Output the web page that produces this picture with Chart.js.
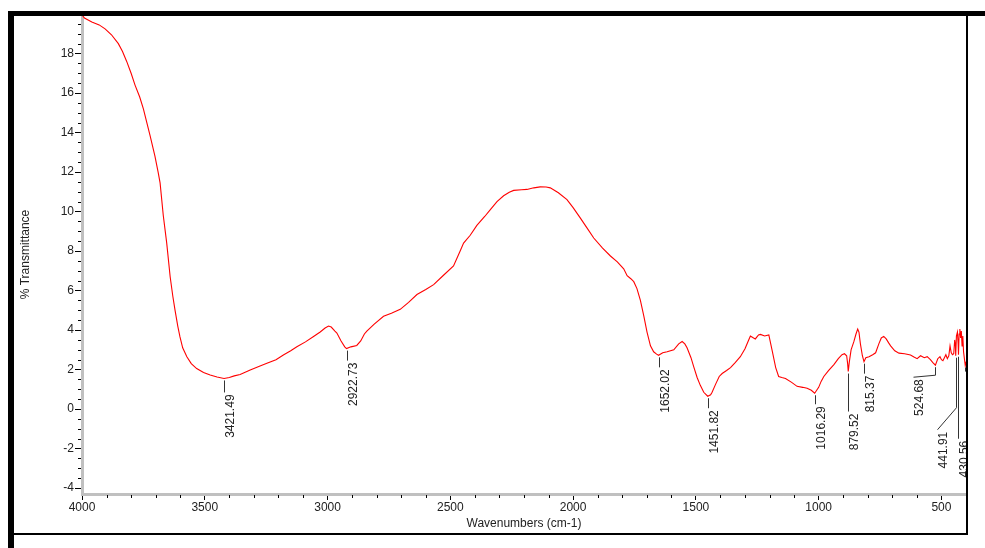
<!DOCTYPE html>
<html>
<head>
<meta charset="utf-8">
<script src="https://cdn.jsdelivr.net/npm/chart.js@4/dist/chart.umd.min.js"></script>
<style>
html,body{margin:0;padding:0;background:#fff;overflow:hidden}
canvas{display:block}
</style>
</head>
<body>
<canvas id="c" width="985" height="548"></canvas>
<script>
// FT-IR spectrum: wavenumber (cm-1) against % transmittance
const wavenumbers = [
  4000, 3990, 3960, 3930, 3906, 3880, 3852, 3835, 3818, 3800,
  3784, 3765, 3750, 3735, 3723, 3703, 3690, 3682, 3669, 3655,
  3641, 3630, 3621, 3610, 3601, 3590, 3573, 3555, 3533, 3505,
  3478, 3450, 3421.49, 3400, 3380, 3356, 3315, 3280, 3247, 3210,
  3180, 3150, 3125, 3090, 3057, 3030, 3010, 2996, 2985, 2970,
  2962, 2945, 2930, 2922.73, 2905, 2881, 2865, 2850, 2840, 2810,
  2772, 2740, 2704, 2670, 2636, 2600, 2568, 2530, 2487, 2460,
  2446, 2419, 2392, 2360, 2337, 2310, 2283, 2260, 2242, 2210,
  2188, 2160, 2134, 2110, 2093, 2060, 2025, 2000, 1971, 1945,
  1916, 1880, 1848, 1820, 1794, 1780, 1765, 1753, 1740, 1726,
  1712, 1699, 1685, 1672, 1660, 1652.02, 1635, 1617, 1590, 1570,
  1556, 1545, 1536, 1520, 1509, 1495, 1482, 1468, 1451.82, 1440,
  1434, 1420, 1405, 1393, 1375, 1359, 1340, 1319, 1300, 1285,
  1278, 1265, 1258, 1245, 1237, 1220, 1203, 1190, 1175, 1163,
  1150, 1135, 1110, 1088, 1065, 1047, 1030, 1016.29, 1000, 990,
  979, 960, 938, 920, 905, 895, 886, 882, 879.52, 875,
  868, 857, 848, 841, 836, 830, 822, 815.37, 808, 795,
  780, 768, 755, 745, 735, 725, 715, 707, 690, 673,
  650, 626, 610, 599, 585, 570, 558, 545, 535, 524.68,
  515, 506, 500, 494, 488, 482, 476, 470, 465, 460,
  455, 450, 446, 443, 441.91, 439, 435, 432, 430.56, 428,
  425, 422, 419, 416, 413, 410, 406, 403, 400
];
const transmittance = [
  19.95, 19.8, 19.6, 19.45, 19.25, 18.95, 18.5, 18.1, 17.6, 17.0,
  16.4, 15.8, 15.2, 14.45, 13.85, 12.8, 12.0, 11.45, 9.8, 8.4,
  6.7, 5.7, 5.0, 4.2, 3.65, 3.1, 2.65, 2.3, 2.05, 1.85,
  1.72, 1.62, 1.55, 1.6, 1.68, 1.75, 1.98, 2.15, 2.32, 2.5,
  2.74, 2.95, 3.15, 3.4, 3.67, 3.9, 4.1, 4.2, 4.15, 3.95,
  3.85, 3.45, 3.15, 3.06, 3.15, 3.22, 3.45, 3.8, 3.95, 4.3,
  4.7, 4.85, 5.05, 5.4, 5.8, 6.05, 6.3, 6.75, 7.25, 8.0,
  8.4, 8.8, 9.3, 9.75, 10.1, 10.5, 10.8, 10.98, 11.07, 11.1,
  11.12, 11.2, 11.25, 11.24, 11.2, 10.95, 10.6, 10.2, 9.68, 9.2,
  8.66, 8.15, 7.75, 7.45, 7.1, 6.75, 6.6, 6.45, 6.1, 5.5,
  4.7, 3.9, 3.2, 2.9, 2.78, 2.72, 2.85, 2.9, 3.0, 3.3,
  3.42, 3.3, 3.1, 2.6, 2.15, 1.6, 1.2, 0.85, 0.65, 0.72,
  0.85, 1.25, 1.65, 1.8, 1.95, 2.1, 2.35, 2.65, 3.05, 3.5,
  3.7, 3.6, 3.55, 3.75, 3.78, 3.7, 3.75, 3.0, 2.1, 1.65,
  1.6, 1.55, 1.35, 1.15, 1.1, 1.05, 0.95, 0.8, 1.1, 1.4,
  1.65, 1.95, 2.25, 2.55, 2.75, 2.8, 2.7, 2.3, 1.9, 2.4,
  3.0, 3.4, 3.8, 4.05, 3.9, 3.3, 2.7, 2.4, 2.6, 2.65,
  2.75, 2.85, 3.3, 3.6, 3.68, 3.55, 3.35, 3.2, 2.95, 2.83,
  2.8, 2.74, 2.62, 2.55, 2.7, 2.6, 2.65, 2.5, 2.35, 2.22,
  2.55, 2.65, 2.5, 2.45, 2.6, 2.75, 2.55, 2.7, 3.2, 2.85,
  2.75, 2.8, 3.5, 3.2, 2.7, 3.7, 3.9, 3.3, 2.75, 3.8,
  4.05, 3.6, 3.95, 3.2, 3.7, 2.9, 2.5, 2.2, 2.4
];

// Picked peak positions (cm-1) and their printed labels
const peakWavenumbers = [3421.49, 2922.73, 1652.02, 1451.82, 1016.29, 879.52, 815.37, 524.68, 441.91, 430.56, 403];
const peakLabels = ['3421.49', '2922.73', '1652.02', '1451.82', '1016.29', '879.52', '815.37', '524.68', '441.91', '430.56', '403.14'];

// Axis tick values
const xTickValues = [4000, 3500, 3000, 2500, 2000, 1500, 1000, 500];
const yTickValues = [-4, -2, 0, 2, 4, 6, 8, 10, 12, 14, 16, 18];

// Leader line geometry for each peak label (pixels): drop length, then sideways/downward shift
const leaderGeometry = [
  {len: 12, dx: 0, dy: 0},
  {len: 10, dx: 0, dy: 0},
  {len: 10, dx: 0, dy: 0},
  {len: 10, dx: 0, dy: 0},
  {len: 9, dx: 0, dy: 0},
  {len: 38, dx: 0, dy: 0},
  {len: 10, dx: 0, dy: 0},
  {len: 8, dx: -22, dy: 2},
  {len: 50, dx: -19, dy: 22},
  {len: 82, dx: 0, dy: 0},
  {len: 4, dx: 0, dy: 0}
];

const FONT = 'Liberation Sans, Arial, sans-serif';

const points = wavenumbers.map((w, i) => ({x: w, y: transmittance[i]}));

// Window-style frame around the plot
const framePlugin = {
  id: 'frame',
  beforeDraw(chart) {
    const ctx = chart.ctx;
    ctx.save();
    ctx.fillStyle = '#ffffff';
    ctx.fillRect(0, 0, chart.width, chart.height);
    ctx.restore();
  },
  afterDraw(chart) {
    const ctx = chart.ctx;
    const a = chart.chartArea;
    ctx.save();
    ctx.fillStyle = '#000000';
    ctx.fillRect(8, 11, chart.width - 8, 5);
    ctx.fillRect(8, 11, 6, chart.height - 11);
    ctx.fillRect(a.right, 16, 2, 519);
    ctx.fillRect(14, 533, a.right - 12, 2);
    ctx.restore();
  }
};

// Minor tick marks between the labelled ticks
const minorTickPlugin = {
  id: 'minorTicks',
  afterDraw(chart) {
    const {ctx, chartArea: a} = chart;
    const xs = chart.scales.x, ys = chart.scales.y;
    ctx.save();
    ctx.strokeStyle = '#000';
    ctx.lineWidth = 1;
    ctx.beginPath();
    for (let v = -4; v <= ys.max; v += 0.5) {
      if (yTickValues.includes(v)) continue;
      const py = Math.round(ys.getPixelForValue(v)) + 0.5;
      ctx.moveTo(a.left - 4, py);
      ctx.lineTo(a.left - 1, py);
    }
    for (let v = 500; v <= 4000; v += 100) {
      if (xTickValues.includes(v)) continue;
      const px = Math.round(xs.getPixelForValue(v)) + 0.5;
      ctx.moveTo(px, a.bottom + 1);
      ctx.lineTo(px, a.bottom + 4);
    }
    ctx.stroke();
    ctx.restore();
  }
};

// Peak annotations: leader line from the band minimum and a rotated wavenumber label
const peakLabelPlugin = {
  id: 'peakLabels',
  afterDatasetsDraw(chart) {
    const {ctx, chartArea: a} = chart;
    const xs = chart.scales.x, ys = chart.scales.y;
    ctx.save();
    ctx.beginPath();
    ctx.rect(a.left, a.top, a.right - a.left, a.bottom - a.top);
    ctx.clip();
    ctx.strokeStyle = '#333';
    ctx.fillStyle = '#222';
    ctx.lineWidth = 1;
    ctx.font = '12px ' + FONT;
    peakWavenumbers.forEach((w, i) => {
      let idx = wavenumbers.indexOf(w);
      if (idx < 0) return;
      const g = leaderGeometry[i];
      const px = Math.round(xs.getPixelForValue(w)) + 0.5;
      const py = ys.getPixelForValue(transmittance[idx]) + 2;
      const y1 = py + g.len;
      const ex = px + g.dx, ey = y1 + g.dy;
      ctx.beginPath();
      ctx.moveTo(px, py);
      ctx.lineTo(px, y1);
      if (g.dx || g.dy) ctx.lineTo(ex, ey);
      ctx.stroke();
      ctx.save();
      ctx.translate(ex, ey + 2);
      ctx.rotate(-Math.PI / 2);
      ctx.textAlign = 'right';
      ctx.textBaseline = 'top';
      ctx.fillText(peakLabels[i], 0, 0);
      ctx.restore();
    });
    ctx.restore();
  }
};

new Chart(document.getElementById('c'), {
  type: 'line',
  data: {
    datasets: [{
      data: points,
      borderColor: '#ff0000',
      borderWidth: 1.1,
      pointRadius: 0,
      tension: 0,
      fill: false
    }]
  },
  options: {
    responsive: false,
    animation: false,
    devicePixelRatio: 1,
    layout: {padding: {top: 15, right: 19, left: 0, bottom: 0}},
    plugins: {legend: {display: false}, tooltip: {enabled: false}},
    scales: {
      x: {
        type: 'linear',
        reverse: true,
        min: 400,
        max: 4000,
        afterBuildTicks: s => { s.ticks = xTickValues.map(v => ({value: v})); },
        afterFit: s => { s.height = 54; },
        border: {display: true, color: '#c0c0c0', width: 3},
        grid: {drawOnChartArea: false, drawTicks: true, tickLength: 6, tickColor: '#000', tickWidth: 1},
        ticks: {color: '#222', font: {family: FONT, size: 12}, padding: 0, maxRotation: 0, autoSkip: false,
          callback: v => String(v)},
        title: {display: true, text: 'Wavenumbers (cm-1)', color: '#222',
          font: {family: FONT, size: 12}, padding: {top: 0, bottom: 17}}
      },
      y: {
        type: 'linear',
        min: -4.3,
        max: 19.95,
        afterBuildTicks: s => { s.ticks = yTickValues.map(v => ({value: v})); },
        afterFit: s => { s.width = 82; },
        border: {display: true, color: '#c0c0c0', width: 3},
        grid: {drawOnChartArea: false, drawTicks: true, tickLength: 7, tickColor: '#000', tickWidth: 1},
        ticks: {color: '#222', font: {family: FONT, size: 12}, padding: 1, autoSkip: false,
          callback: v => String(v)},
        title: {display: true, text: '% Transmittance', color: '#222',
          font: {family: FONT, size: 12}, padding: {top: 18, bottom: 0}}
      }
    }
  },
  plugins: [framePlugin, minorTickPlugin, peakLabelPlugin]
});
</script>
</body>
</html>
